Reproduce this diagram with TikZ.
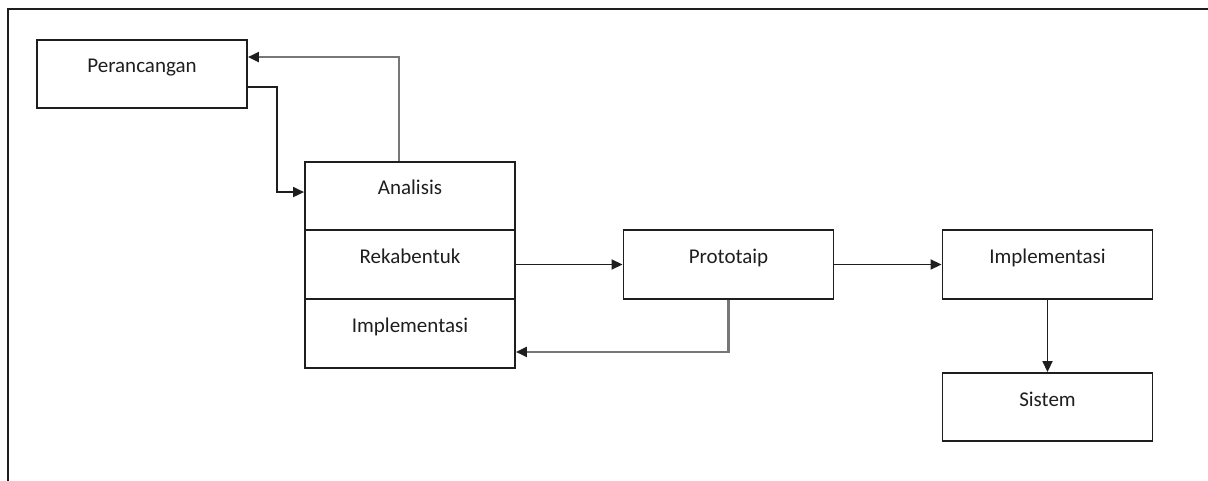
\documentclass[tikz,border=0pt]{standalone}
\usepackage{fontspec}
\setmainfont{Carlito}
\usetikzlibrary{arrows.meta,calc}
\definecolor{linegray}{HTML}{777777}
\definecolor{ink}{HTML}{1E1E1E}
\tikzset{
  x=1pt, y=-1pt,
  box/.style={draw=ink, line width=1.9pt, rectangle, inner sep=0pt, minimum width=210pt},
  lbl/.style={anchor=base, inner sep=0pt, text=ink, font=\fontsize{21}{25}\selectfont},
  arr/.style={draw=ink, line width=1.8pt, -{Triangle[length=11pt,width=10pt]}},
  garr/.style={draw=linegray, line width=2.1pt, arrows={-{Triangle[length=11pt,width=10pt,color=ink]}}},
  frame/.style={draw=ink, line width=2.8pt}
}
\begin{document}
\begin{tikzpicture}
\useasboundingbox (0,0) rectangle (1208,481);

% open frame: top and left edges
\coordinate (fr0) at (8,481);
\coordinate (fr1) at (8,9);
\coordinate (fr2) at (1210,9);
\draw[frame] (fr0) -- (fr1) -- (fr2);

% boxes
\node[box, minimum height=68pt] (per) at (142,74) {};
\node[box, minimum height=68pt] (ana) at (410,196) {};
\node[box, minimum height=69pt] (rek) at (410,264.5) {};
\node[box, minimum height=69pt] (imp) at (410,333.5) {};
\node[box, minimum height=69pt] (pro) at (728.5,264.5) {};
\node[box, minimum height=69pt] (impr) at (1047.5,264.5) {};
\node[box, minimum height=68pt] (sis) at (1047.5,407) {};

% labels
\node[lbl] (perT) at (142,73) {Perancangan};
\node[lbl] (anaT) at (410,195) {Analisis};
\node[lbl] (rekT) at (410,263.5) {Rekabentuk};
\node[lbl] (impT) at (410,332.5) {Implementasi};
\node[lbl] (proT) at (728.5,264) {Prototaip};
\node[lbl] (imprT) at (1047.5,264) {Implementasi};
\node[lbl] (sisT) at (1047.5,406) {Sistem};

% connectors
\draw[garr] ($(ana.north west)+(95,0)$) |- ($(per.north east)+(0,18)$);
\draw[arr] ($(per.north east)+(0,48)$) -- ++(29,0) |- ($(ana.north west)+(0,31)$);
\draw[arr] (rek.east) -- (pro.west);
\draw[arr] (pro.east) -- (impr.west);
\draw[arr] (impr.south) -- (sis.north);
\draw[garr] (pro.south) |- ($(imp.south east)+(0,-17)$);
\end{tikzpicture}
\end{document}
